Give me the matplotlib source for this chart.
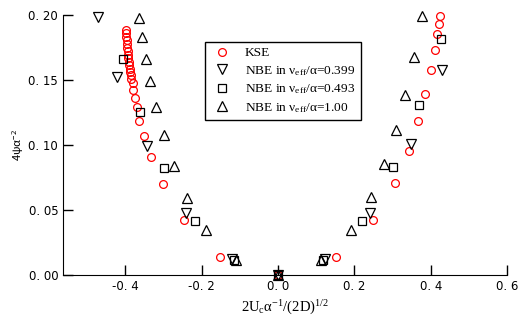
import matplotlib
matplotlib.use("agg")
import matplotlib.pyplot as plt

# KSE
kse_x = [-0.3992, -0.3984, -0.3976, -0.3969, -0.3958, -0.3950, -0.3940, -0.3932,
         -0.3921, -0.3911, -0.3900, -0.3890, -0.3879, -0.3866, -0.3853, -0.3809,
         -0.3793, -0.3748, -0.3704, -0.3636, -0.3512, -0.3337, -0.3022, -0.2472,
         -0.1512, 0.0,
         0.153, 0.249, 0.306, 0.342, 0.368, 0.385, 0.401, 0.411, 0.4168, 0.423, 0.4255]
kse_y = [0.1885, 0.1858, 0.1831, 0.1804, 0.1777, 0.1750, 0.1723, 0.1696,
         0.1669, 0.1642, 0.1615, 0.1588, 0.1562, 0.1535, 0.1508, 0.1475,
         0.1423, 0.1359, 0.1290, 0.1187, 0.1069, 0.0910, 0.0698, 0.0423,
         0.0141, 0.0,
         0.0141, 0.0423, 0.0705, 0.0954, 0.1187, 0.139, 0.158, 0.173, 0.1852, 0.1928, 0.1995]

# NBE nu_eff/alpha = 0.399
n399_x = [-0.4726, -0.421, -0.344, -0.241, -0.1215, 0.0, 0.123, 0.241, 0.348, 0.430]
n399_y = [0.1987, 0.1526, 0.0995, 0.048, 0.012, 0.0, 0.012, 0.048, 0.1005, 0.1577]

# NBE nu_eff/alpha = 0.493
n493_x = [-0.407, -0.361, -0.299, -0.2176, -0.115, 0.0, 0.119, 0.219, 0.302, 0.370, 0.427]
n493_y = [0.1664, 0.1256, 0.082, 0.0415, 0.0115, 0.0, 0.0115, 0.0415, 0.0833, 0.1308, 0.1813]

# NBE nu_eff/alpha = 1.00
n100_x = [-0.364, -0.357, -0.347, -0.3355, -0.320, -0.2997, -0.274, -0.239, -0.189, -0.110,
          0.0, 0.113, 0.191, 0.243, 0.2787, 0.3085, 0.333, 0.3556, 0.3766]
n100_y = [0.1975, 0.183, 0.1664, 0.149, 0.129, 0.1075, 0.0838, 0.0595, 0.0344, 0.0115,
          0.0, 0.0115, 0.0344, 0.0598, 0.0854, 0.1113, 0.1385, 0.168, 0.1992]

xticks = [-0.4, -0.2, 0.0, 0.2, 0.4, 0.6]
yticks = [0.00, 0.05, 0.10, 0.15, 0.20]

plt.rcParams['mathtext.fontset'] = 'custom'
plt.rcParams['mathtext.rm'] = 'Liberation Serif'
plt.rcParams['mathtext.it'] = 'Liberation Serif:italic'

fig = plt.figure(figsize=(5.18, 3.22), dpi=100)
ax = fig.add_axes([0.1216, 0.146, 0.8572, 0.8074])

mk = dict(linestyle='none', markerfacecolor='none', clip_on=False, markeredgewidth=0.9)
ax.plot(kse_x, kse_y, marker='o', markersize=5.6, markeredgecolor='red', label='KSE', **mk)
ax.plot(n399_x, n399_y, marker='v', markersize=6.5, markeredgecolor='black',
        label=r'NBE in ν$\mathregular{_{eff}}$/α=0.399', **mk)
ax.plot(n493_x, n493_y, marker='s', markersize=5.6, markeredgecolor='black',
        label=r'NBE in ν$\mathregular{_{eff}}$/α=0.493', **mk)
ax.plot(n100_x, n100_y, marker='^', markersize=6.5, markeredgecolor='black',
        label=r'NBE in ν$\mathregular{_{eff}}$/α=1.00', **mk)

ax.set_xlim(-0.5636, 0.6)
ax.set_ylim(0, 0.2)
ax.spines['top'].set_visible(False)
ax.spines['right'].set_visible(False)
ax.spines['left'].set_bounds(0, 0.2)
ax.tick_params(direction='in', length=7, width=1)

tick_font = dict(family=['DejaVu Sans'], size=8.5)
ax.set_xticks(xticks)
ax.set_xticklabels(['{:.1f}'.format(v).replace('.', '. ') for v in xticks], **tick_font)
ax.set_yticks(yticks)
ax.set_yticklabels(['{:.2f}'.format(v).replace('.', '. ') for v in yticks], **tick_font)

ax.set_xlabel(r'2U$_\mathregular{c}$α$^\mathregular{-1}$/(2D)$^\mathregular{1/2}$',
              family='Liberation Serif', fontsize=10.5, labelpad=4)
ax.set_ylabel(r'4ψα$^\mathregular{-2}$', family=['Noto Sans CJK JP', 'DejaVu Sans'],
              fontsize=8, labelpad=2)

leg = ax.legend(loc='upper left', bbox_to_anchor=(0.32, 0.897), borderaxespad=0,
                prop={'family': 'Liberation Serif', 'size': 9.6}, fancybox=False,
                framealpha=1, edgecolor='black', handletextpad=0.8, labelspacing=0.35,
                borderpad=0.4, handlelength=1.8)
leg.get_frame().set_linewidth(1)

fig.savefig('out.png', dpi=100)
plt.close(fig)
